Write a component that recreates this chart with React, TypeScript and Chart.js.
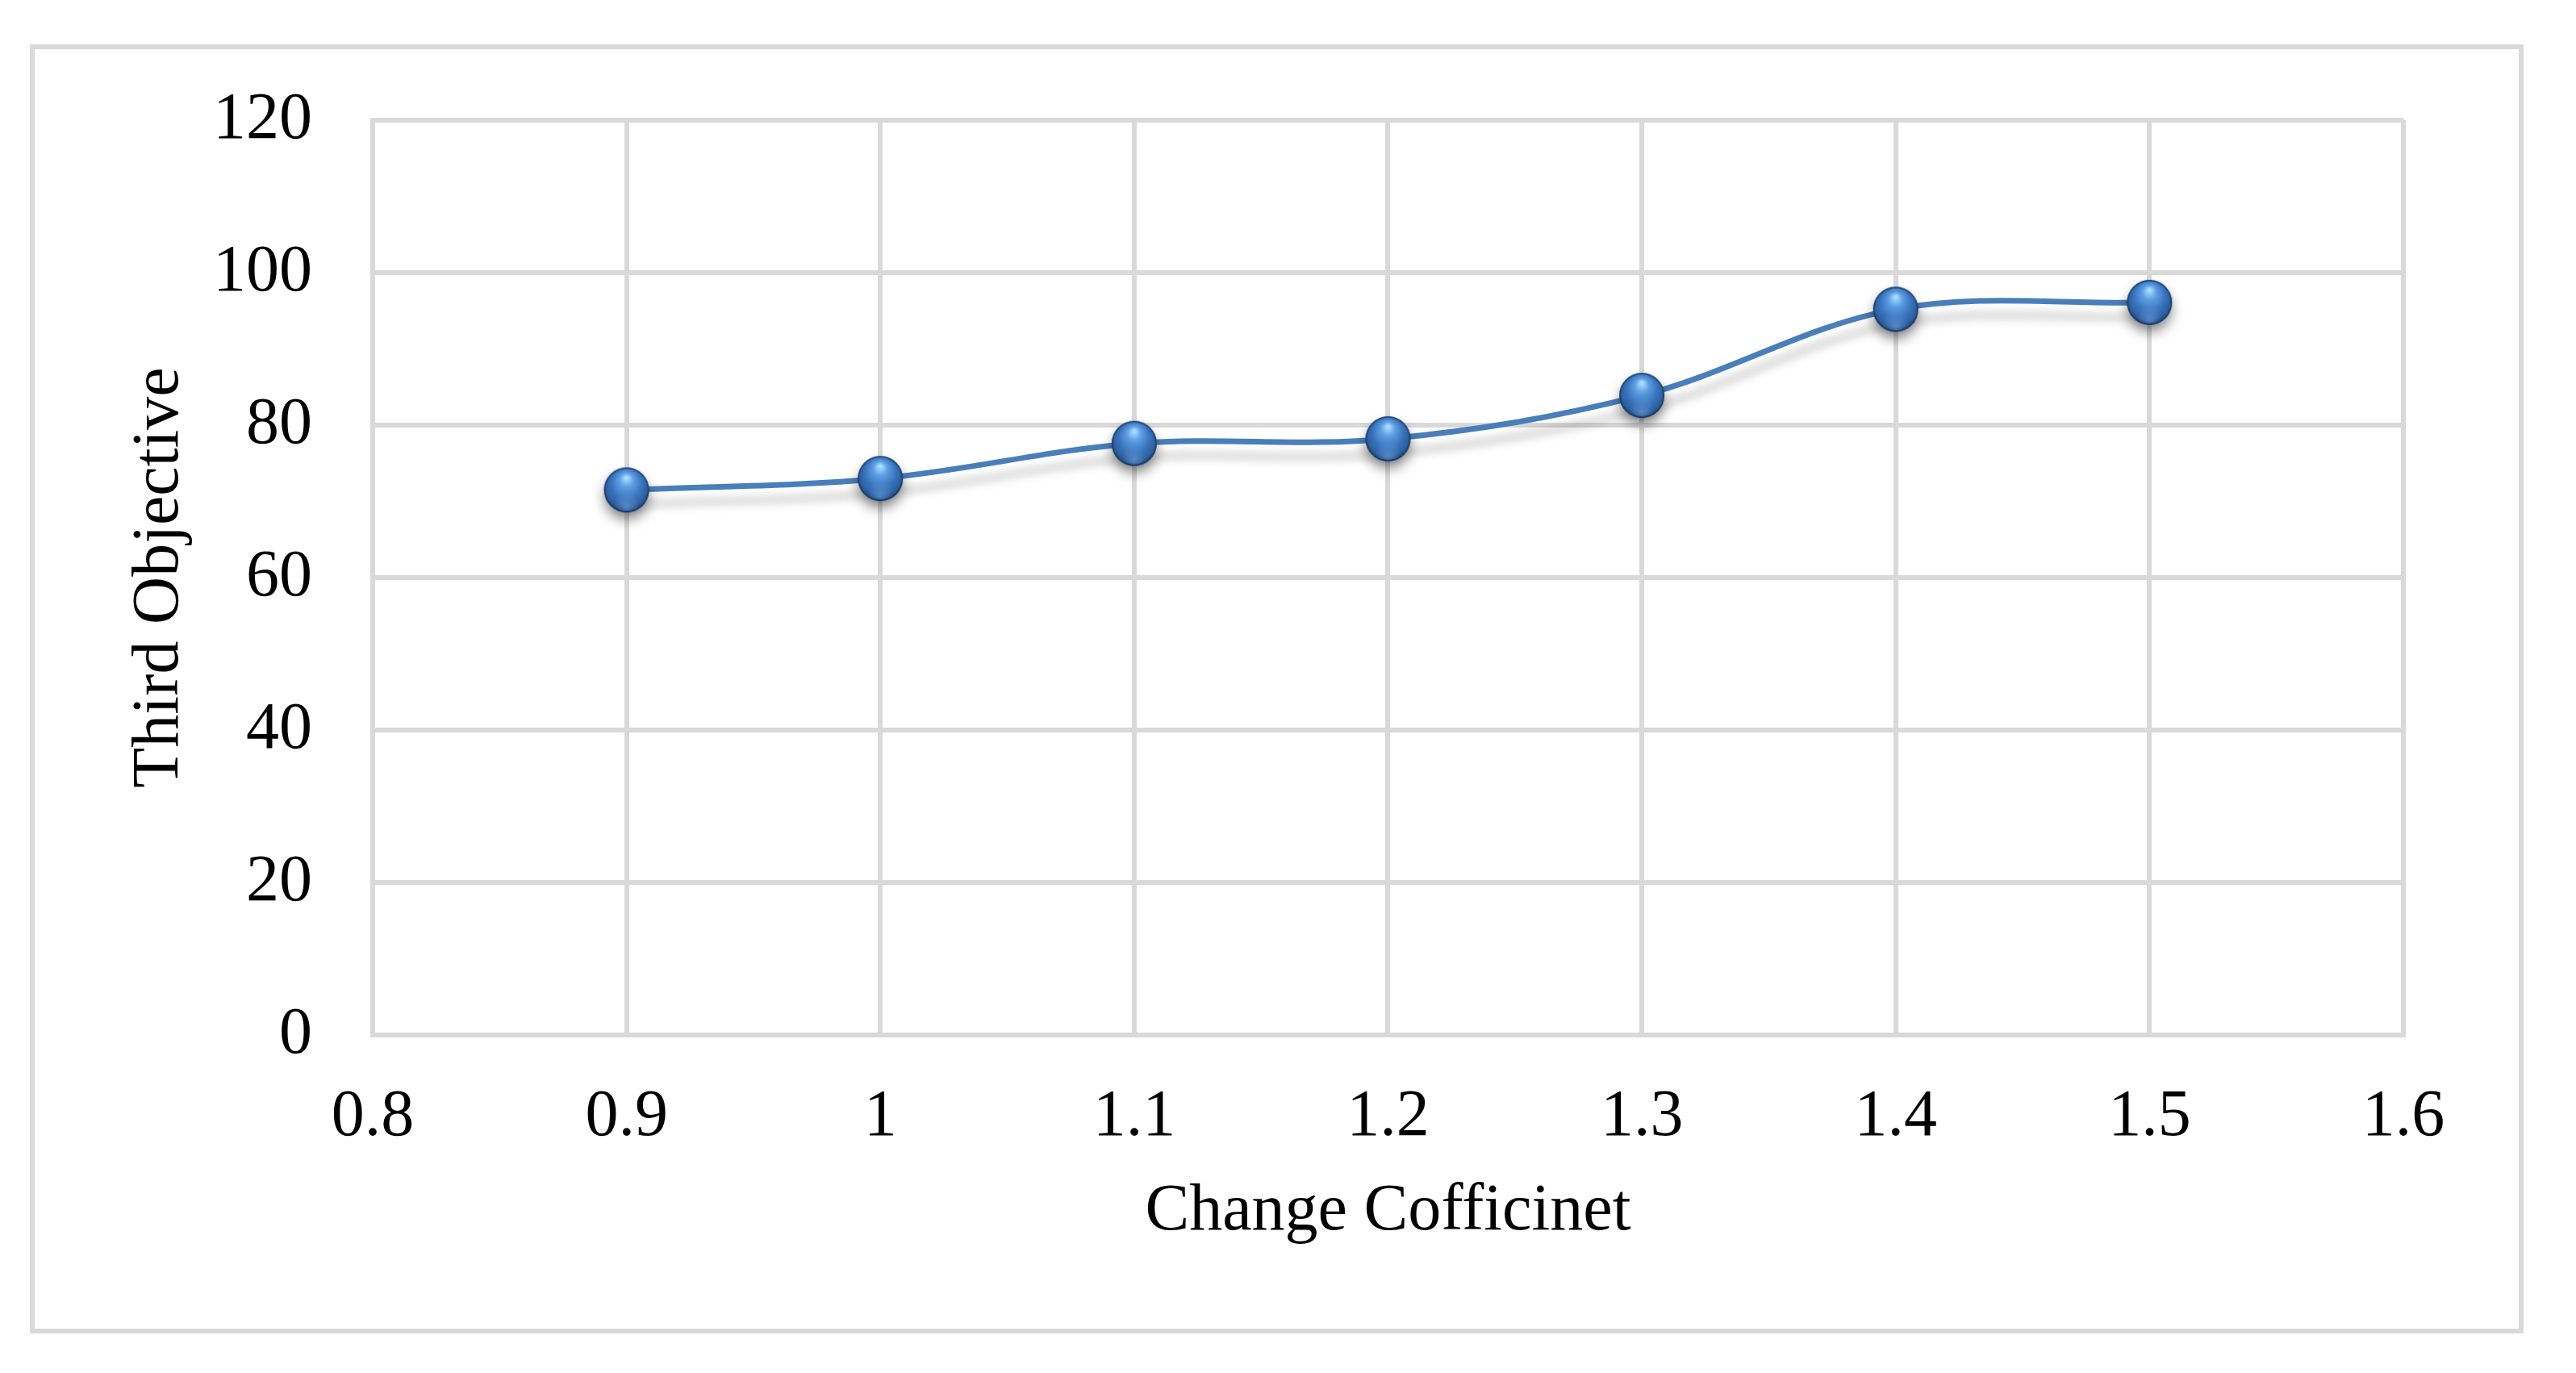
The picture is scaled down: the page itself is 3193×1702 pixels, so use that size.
import React, { useEffect, useRef } from 'react';
import { Chart, registerables } from 'chart.js';

Chart.register(...registerables);

const xValues = [0.9, 1.0, 1.1, 1.2, 1.3, 1.4, 1.5];
const yValues = [71.5, 73.0, 77.6, 78.2, 83.9, 95.2, 96.1];
const xTickValues = [0.8, 0.9, 1.0, 1.1, 1.2, 1.3, 1.4, 1.5, 1.6];
const xTickLabels = ['0.8', '0.9', '1', '1.1', '1.2', '1.3', '1.4', '1.5', '1.6'];
const yTickValues = [0, 20, 40, 60, 80, 100, 120];
const xTitle = 'Change Cofficinet';
const yTitle = 'Third Objective';

const W = 3193;
const H = 1702;
const GRID = '#d9d9d9';
const LINE = '#4a7ebb';
const FONT = { family: '"Liberation Serif", "Times New Roman", serif', size: 82, lineHeight: 1.2 };

function makeSphere(r: number): HTMLCanvasElement {
  const pad = 34;
  const size = Math.round(2 * (r + pad));
  const c = document.createElement('canvas');
  c.width = size;
  c.height = size;
  const ctx = c.getContext('2d')!;
  const cx = size / 2;
  const cy = size / 2;
  // drop shadow
  ctx.save();
  ctx.shadowColor = 'rgba(0,0,0,0.5)';
  ctx.shadowBlur = 16;
  ctx.shadowOffsetY = 9;
  ctx.beginPath();
  ctx.arc(cx, cy, r - 1, 0, Math.PI * 2);
  ctx.fillStyle = '#2a5c9a';
  ctx.fill();
  ctx.restore();
  // body
  const g = ctx.createRadialGradient(cx, cy - r * 0.55, r * 0.05, cx, cy - r * 0.1, r * 1.1);
  g.addColorStop(0, '#a9dcff');
  g.addColorStop(0.25, '#5f9fe4');
  g.addColorStop(0.6, '#3a74bd');
  g.addColorStop(0.85, '#2d5f9f');
  g.addColorStop(1, '#1d3f6c');
  ctx.beginPath();
  ctx.arc(cx, cy, r, 0, Math.PI * 2);
  ctx.fillStyle = g;
  ctx.fill();
  // subtle lower reflection
  const g2 = ctx.createRadialGradient(cx, cy + r * 0.75, r * 0.05, cx, cy + r * 0.6, r * 0.55);
  g2.addColorStop(0, 'rgba(110,160,220,0.55)');
  g2.addColorStop(1, 'rgba(110,160,220,0)');
  ctx.beginPath();
  ctx.arc(cx, cy, r - 2, 0, Math.PI * 2);
  ctx.fillStyle = g2;
  ctx.fill();
  // dark rim
  ctx.beginPath();
  ctx.arc(cx, cy, r - 1, 0, Math.PI * 2);
  ctx.lineWidth = 2;
  ctx.strokeStyle = 'rgba(20,50,90,0.6)';
  ctx.stroke();
  return c;
}

const framePlugin = {
  id: 'frame',
  beforeDraw(chart: any) {
    const ctx = chart.ctx;
    ctx.save();
    ctx.fillStyle = '#ffffff';
    ctx.fillRect(0, 0, chart.width, chart.height);
    ctx.strokeStyle = GRID;
    ctx.lineWidth = 6;
    ctx.strokeRect(40, 58, 3125 - 40, 1650 - 58);
    ctx.restore();
  },
};

const shadowPlugin = {
  id: 'lineShadow',
  beforeDatasetDraw(chart: any, args: any) {
    if (args.index !== 1) return;
    const ctx = chart.ctx;
    ctx.save();
    ctx.shadowColor = 'rgba(0,0,0,0.22)';
    ctx.shadowBlur = 12;
    ctx.shadowOffsetY = 18;
  },
  afterDatasetDraw(chart: any, args: any) {
    if (args.index !== 1) return;
    chart.ctx.restore();
  },
};

export default function App() {
  const ref = useRef<HTMLCanvasElement | null>(null);

  useEffect(() => {
    if (!ref.current) return;
    const sphere = makeSphere(28);
    const points = xValues.map((x, i) => ({ x, y: yValues[i] }));
    const chart = new Chart(ref.current, {
      type: 'line',
      data: {
        datasets: [
          {
            data: points,
            showLine: false,
            pointStyle: sphere as any,
            pointRadius: 28,
            pointHoverRadius: 28,
          },
          {
            data: points,
            borderColor: LINE,
            borderWidth: 7,
            tension: 0.35,
            pointRadius: 0,
            fill: false,
          },
        ],
      },
      options: {
        animation: false,
        responsive: false,
        devicePixelRatio: 1,
        events: [],
        layout: { padding: { top: 149, right: 214, bottom: 0, left: 0 } },
        plugins: {
          legend: { display: false },
          tooltip: { enabled: false },
        },
        scales: {
          x: {
            type: 'linear',
            min: 0.8,
            max: 1.6,
            afterBuildTicks: (s: any) => {
              s.ticks = xTickValues.map((v) => ({ value: v }));
            },
            afterFit: (s: any) => {
              s.height = 419;
            },
            ticks: {
              callback: (_v: any, i: number) => xTickLabels[i],
              font: FONT,
              color: '#000',
              padding: 53,
              maxRotation: 0,
              autoSkip: false,
            },
            grid: { color: GRID, lineWidth: 6, drawTicks: false },
            border: { color: GRID, width: 6 },
            title: {
              display: true,
              text: xTitle,
              font: FONT,
              color: '#000',
              padding: { top: 0, bottom: 150 },
            },
          },
          y: {
            type: 'linear',
            min: 0,
            max: 120,
            afterBuildTicks: (s: any) => {
              s.ticks = yTickValues.map((v) => ({ value: v }));
            },
            afterFit: (s: any) => {
              s.width = 462;
            },
            ticks: {
              font: FONT,
              color: '#000',
              padding: 75,
            },
            grid: { color: GRID, lineWidth: 6, drawTicks: false },
            border: { color: GRID, width: 6 },
            title: {
              display: true,
              text: yTitle,
              font: FONT,
              color: '#000',
              padding: { top: 149, bottom: 0 },
            },
          },
        },
      },
      plugins: [framePlugin, shadowPlugin],
    });
    return () => chart.destroy();
  }, []);

  return (
    <div style={{ position: 'fixed', left: 0, top: 0, width: W, height: H, background: '#fff' }}>
      <canvas ref={ref} width={W} height={H} style={{ display: 'block', width: W, height: H }} />
    </div>
  );
}
